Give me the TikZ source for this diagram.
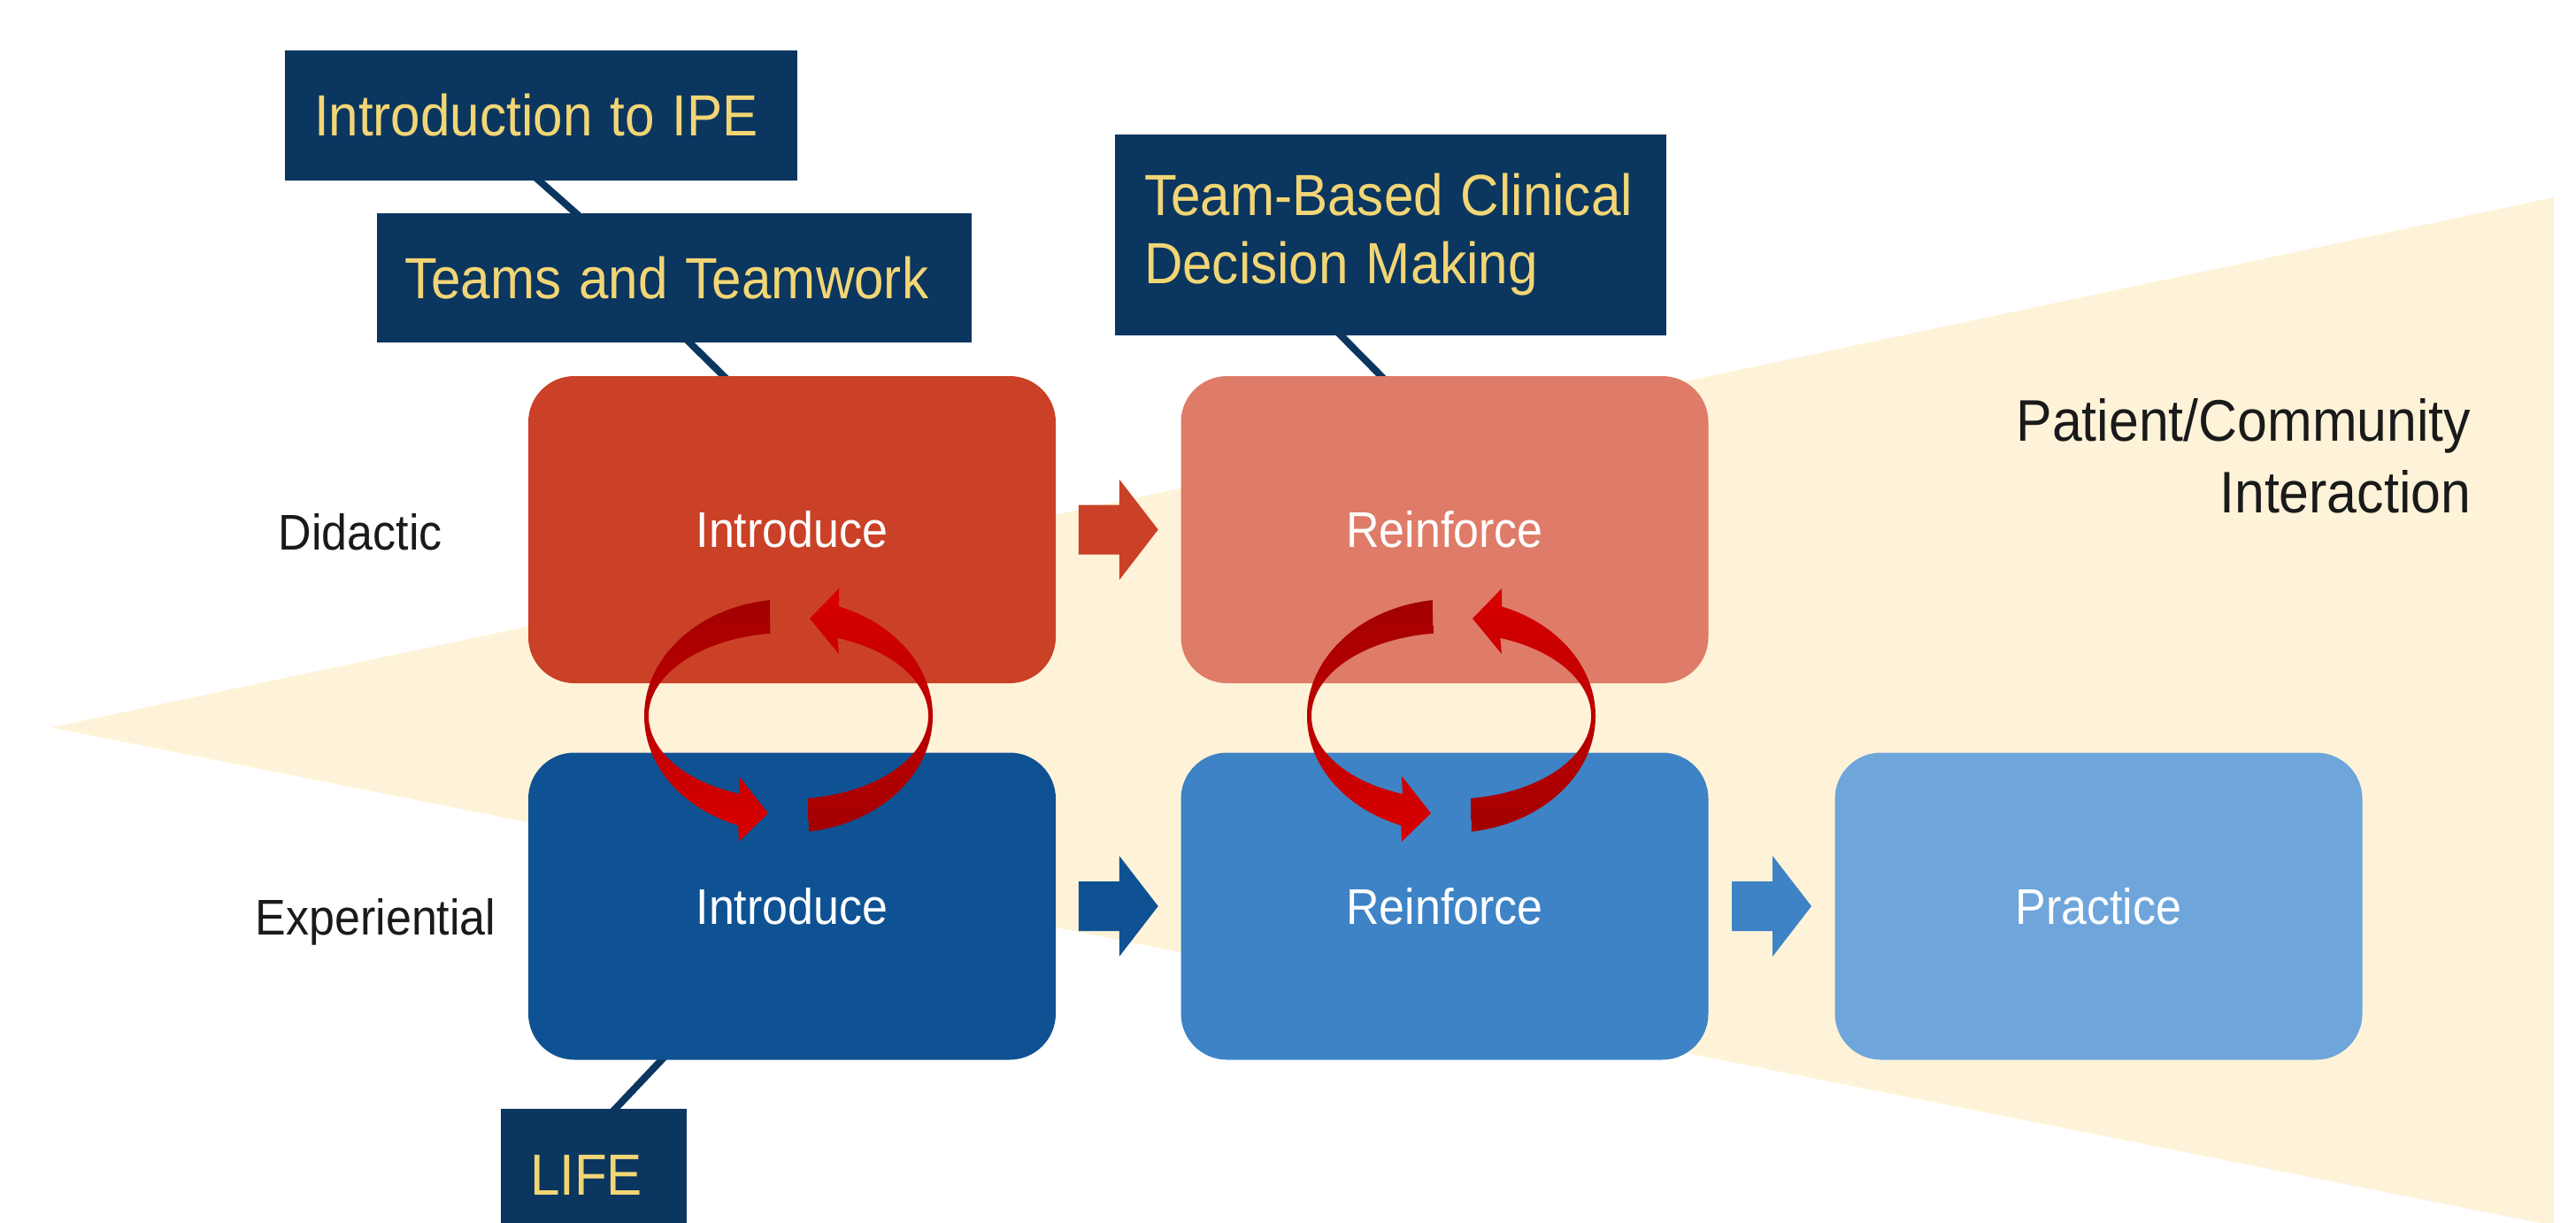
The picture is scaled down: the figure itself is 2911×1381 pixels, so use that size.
\documentclass[tikz,border=0pt]{standalone}
\usepackage{fontspec}
\setmainfont{Liberation Sans}
\usetikzlibrary{calc,backgrounds}
\definecolor{navy}{HTML}{0B365F}
\definecolor{gold}{HTML}{F2D675}
\definecolor{cream}{HTML}{FEF3D8}
\definecolor{cRI}{HTML}{CA4127}
\definecolor{cRR}{HTML}{DE7C69}
\definecolor{cBI}{HTML}{0F5294}
\definecolor{cBR}{HTML}{3E83C5}
\definecolor{cBP}{HTML}{6EA6DB}
\definecolor{cDk}{HTML}{A30000}
\definecolor{cBr}{HTML}{D80000}
\definecolor{txt}{HTML}{1A1A1A}

\newcommand{\vtall}[1]{\scalebox{1}[1.09]{#1}}

\newcommand{\blkarrow}[3]{%
  \coordinate (#2-#3-m) at ($(#2.east)!0.5!(#3.west)$);
  \fill[#1] ($(#2-#3-m)+(-45,28)$) -- ++(46,0) -- ++(0,29) -- ++(44,-57)
    -- ++(-44,-57) -- ++(0,29) -- ++(-46,0) -- cycle;}

\newcommand{\cycarrows}[1]{%
  \shade[top color=cDk, bottom color=cBr]
    ($(#1)+(97.5:40.75pt and 33pt)$)
    arc[start angle=97.5, end angle=249.6, x radius=40.75pt, y radius=33pt]
    -- ($(#1)+(-56,-142)$) -- ($(#1)+(-23,-110)$) -- ($(#1)+(-56,-68)$)
    -- ($(#1)+(249.6:39.5pt and 23.5pt)$)
    arc[start angle=249.6, end angle=97.5, x radius=39.5pt, y radius=23.5pt] -- cycle;
  \shade[top color=cBr, bottom color=cDk]
    ($(#1)+(278.1:40.75pt and 33pt)$)
    arc[start angle=278.1, end angle=429.5, x radius=40.75pt, y radius=33pt]
    -- ($(#1)+(57,144)$) -- ($(#1)+(24,110)$) -- ($(#1)+(57,70)$)
    -- ($(#1)+(429.5:39.5pt and 23.5pt)$)
    arc[start angle=429.5, end angle=278.1, x radius=39.5pt, y radius=23.5pt] -- cycle;}

\begin{document}
\begin{tikzpicture}[x=0.25pt,y=0.25pt,
  lab/.style={fill=navy, text=gold, font=\fontsize{15.05}{19.25}\selectfont,
    align=left, inner xsep=8.25pt, inner ysep=0pt},
  box/.style={rounded corners=13pt, minimum width=149pt, minimum height=86.75pt,
    text=white, font=\fontsize{13}{15.6}\selectfont, inner sep=0pt},
  side/.style={font=\fontsize{13}{15.6}\selectfont, text=txt, inner sep=0pt},
  conn/.style={draw=navy, line width=2pt, shorten <=-3pt, shorten >=-3pt}]
\useasboundingbox (0,0) rectangle (2911,-1381);

% label boxes
\node[lab, text width=128.25pt, minimum height=36.75pt] (ipe) at (611.5,-130.5) {\mbox{\vtall{Introduction to IPE}}};
\node[lab, inner xsep=7.75pt, text width=152.5pt, minimum height=36.5pt] (teams) at (762,-314) {\mbox{\vtall{Teams and Teamwork}}};
\node[lab, text width=139.25pt, minimum height=56.75pt] (tb) at (1571.5,-265.5) {\mbox{\vtall{Team-Based Clinical}}\\\mbox{\vtall{Decision Making}}};
\node[lab, text width=36pt, minimum height=37.5pt] (life) at (671,-1328) {\mbox{\vtall{LIFE}}};

% main boxes
\node[box, fill=cRI] (rI) at (895,-598.5) {\vtall{Introduce}};
\node[box, fill=cRR] (rR) at (1632.5,-598.5) {\vtall{Reinforce}};
\node[box, fill=cBI] (bI) at (895,-1024) {\vtall{Introduce}};
\node[box, fill=cBR] (bR) at (1632.5,-1024) {\vtall{Reinforce}};
\node[box, fill=cBP] (bP) at (2371.5,-1024) {\vtall{Practice}};

% side labels
\node[side, anchor=base west] (did) at (314,-621.6) {\vtall{Didactic}};
\node[side, anchor=base west] (exp) at (288,-1056.6) {\vtall{Experiential}};
\node[font=\fontsize{15.2}{20.1}\selectfont, text=txt, align=right, inner sep=0pt,
  anchor=north east] (pc) at (2793,-450) {\vtall{Patient/Community}\\\vtall{Interaction}};

\begin{scope}[on background layer]
  \fill[cream] (58,-822) -- (2886,-223) -- (2886,-1385) -- cycle;
  \draw[conn] ([xshift=-0.375pt]ipe.south) -- ([xshift=-28pt]teams.north);
  \draw[conn] ([xshift=4.5pt]teams.south) -- ([xshift=-19.5pt]rI.north);
  \draw[conn] ([xshift=-13.875pt]tb.south) -- ([xshift=-18.125pt]rR.north);
  \draw[conn] ([xshift=-37pt]bI.south) -- ([xshift=6.25pt]life.north);
\end{scope}

% block arrows
\blkarrow{cRI}{rI}{rR}
\blkarrow{cBI}{bI}{bR}
\blkarrow{cBR}{bR}{bP}

% cycle arrows
\coordinate (cyc1) at (891,-809);
\coordinate (cyc2) at (1640,-809);
\cycarrows{cyc1}
\cycarrows{cyc2}
\end{tikzpicture}
\end{document}
